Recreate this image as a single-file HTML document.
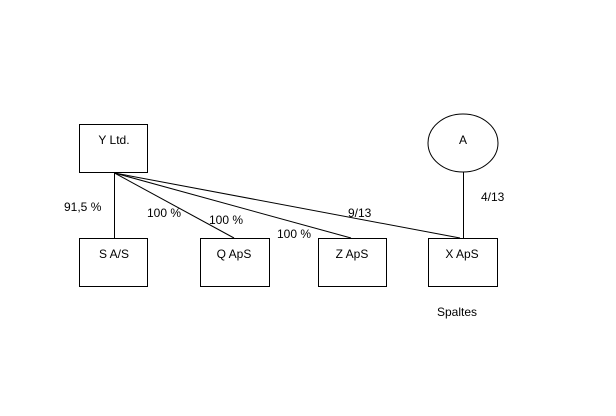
<!DOCTYPE html>
<html><head><meta charset="utf-8"><style>
html,body{margin:0;padding:0;background:#fff;}
svg{display:block;}
text{font-family:"Liberation Sans",sans-serif;font-size:12px;fill:#000;}
</style></head><body>
<svg width="616" height="416" viewBox="0 0 616 416" xmlns="http://www.w3.org/2000/svg">
<g fill="none" stroke="#000" stroke-width="1">
<rect x="79.5" y="124.5" width="68" height="48"/>
<rect x="79.5" y="238.5" width="68" height="48"/>
<rect x="200.5" y="238.5" width="69" height="48"/>
<rect x="318.5" y="238.5" width="68" height="48"/>
<rect x="428.5" y="238.5" width="69" height="48"/>
<ellipse cx="463" cy="143" rx="35" ry="29"/>
<line x1="114.5" y1="173" x2="114.5" y2="238"/>
<line x1="114.5" y1="173" x2="234" y2="238"/>
<line x1="114.5" y1="173" x2="351" y2="238"/>
<line x1="114.5" y1="173" x2="460" y2="238"/>
<line x1="463.5" y1="172" x2="463.5" y2="238"/>
</g>
<text x="114" y="144" text-anchor="middle">Y Ltd.</text>
<text x="114" y="258" text-anchor="middle">S A/S</text>
<text x="234" y="258" text-anchor="middle">Q ApS</text>
<text x="352" y="258" text-anchor="middle">Z ApS</text>
<text x="462" y="258" text-anchor="middle">X ApS</text>
<text x="463" y="144" text-anchor="middle">A</text>
<text x="64" y="211">91,5 %</text>
<text x="147" y="217">100 %</text>
<text x="209" y="224">100 %</text>
<text x="277" y="238">100 %</text>
<text x="348" y="217">9/13</text>
<text x="481" y="201">4/13</text>
<text x="437" y="316">Spaltes</text>
</svg>
</body></html>
